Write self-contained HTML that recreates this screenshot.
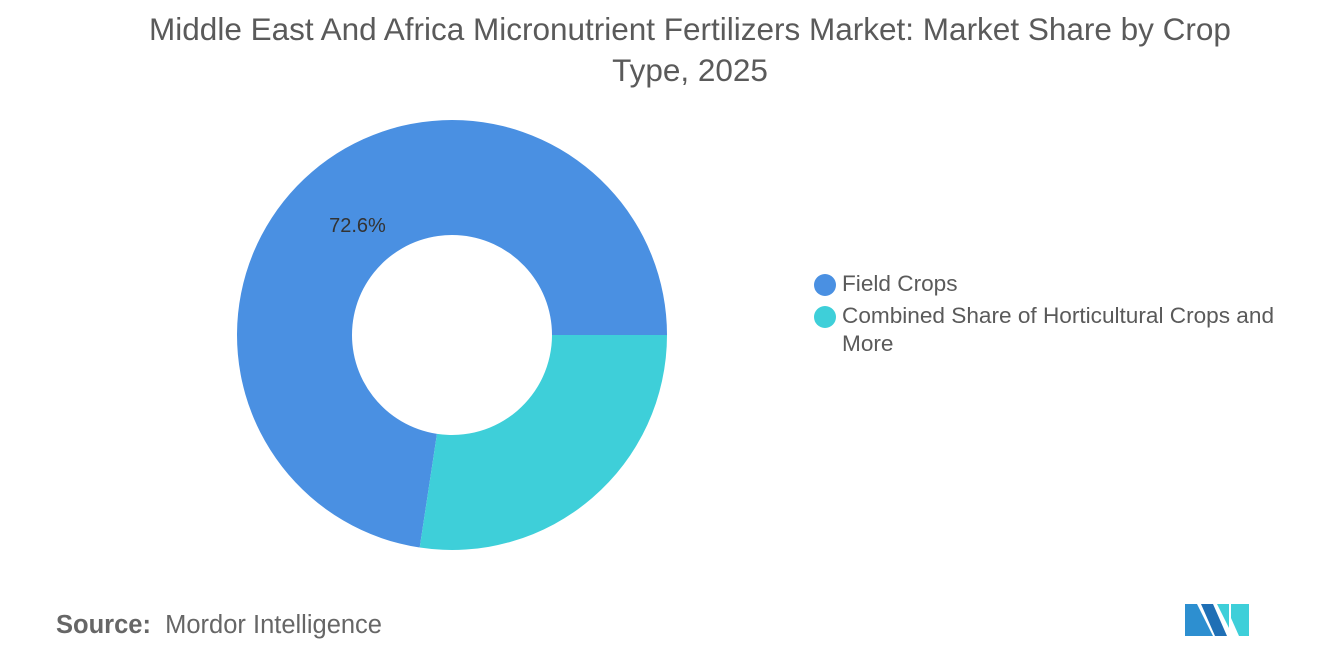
<!DOCTYPE html>
<html><head><meta charset="utf-8"><style>
body{margin:0;width:1320px;height:665px;background:#fff;font-family:"Liberation Sans",sans-serif;position:relative;overflow:hidden}
#title{position:absolute;left:40px;width:1300px;top:9px;text-align:center;font-size:31.5px;line-height:41px;color:#5a5a5a}
.leg{position:absolute;font-size:22.6px;color:#5a5a5a;line-height:28px}
.dot{position:absolute;width:22px;height:22px;border-radius:50%}
#source{position:absolute;left:56px;top:611px;font-size:25.5px;color:#666}
</style></head><body>
<div id="title">Middle East And Africa Micronutrient Fertilizers Market: Market Share by Crop<br>Type, 2025</div>
<svg id="chart" width="1320" height="665" style="position:absolute;left:0;top:0"></svg>
<div class="dot" style="left:814px;top:274px;background:#4a90e2"></div>
<div class="leg" style="left:842px;top:270px">Field Crops</div>
<div class="dot" style="left:814px;top:306px;background:#3ecfd9"></div>
<div class="leg" style="left:842px;top:302px;width:470px">Combined Share of Horticultural Crops and<br>More</div>
<div id="source"><b style="font-weight:600">Source:</b>&nbsp; Mordor Intelligence</div>
<svg width="70" height="40" style="position:absolute;left:1183px;top:601px">
<polygon points="2,3 14,3 30,35 2,35" fill="#2d8fd0"/>
<polygon points="18,3 30,3 44,35 32,35" fill="#1f6fb5"/>
<polygon points="34,3 46,3 46,27" fill="#3ecfd9"/>
<polygon points="48,3 66,3 66,35 56,35 48,17" fill="#3ecfd9"/>
</svg>
<script>
const categories=["Field Crops","Combined Share of Horticultural Crops and More"];
const shares=[72.6,27.4];
const colors=["#4a90e2","#3ecfd9"];
const svg=document.getElementById('chart');
const NS='http://www.w3.org/2000/svg';
const cx=452,cy=335,R=215,r=100;
const total=shares.reduce((a,b)=>a+b,0);
let a0=90-shares[0]/total*360; // degrees clockwise from top
function pt(deg,rad){const t=(deg-90)*Math.PI/180;return [cx+rad*Math.cos(t),cy+rad*Math.sin(t)];}
shares.forEach((v,i)=>{
  const a1=a0+v/total*360;
  const large=(a1-a0)>180?1:0;
  const [x0,y0]=pt(a0,R),[x1,y1]=pt(a1,R),[x2,y2]=pt(a1,r),[x3,y3]=pt(a0,r);
  const p=document.createElementNS(NS,'path');
  p.setAttribute('d',`M${x0},${y0}A${R},${R} 0 ${large} 1 ${x1},${y1}L${x2},${y2}A${r},${r} 0 ${large} 0 ${x3},${y3}Z`);
  p.setAttribute('fill',colors[i]);
  
  
  svg.appendChild(p);
  if(i===0){
    const [lx,ly]=pt(a0+(a1-a0)*0.5,145);
    const t=document.createElementNS(NS,'text');
    t.setAttribute('x',lx);t.setAttribute('y',ly+7);
    t.setAttribute('text-anchor','middle');t.setAttribute('font-size','20');t.setAttribute('fill','#333');
    t.setAttribute('font-family','Liberation Sans, sans-serif');
    t.textContent=v.toFixed(1)+'%';
    
    
    svg.appendChild(t);
  }
  a0=a1;
});
</script>
</body></html>
